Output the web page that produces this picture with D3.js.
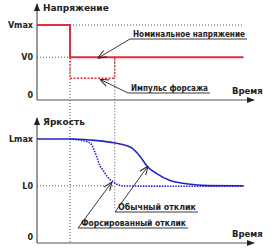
<!DOCTYPE html>
<html><head><meta charset="utf-8">
<script src="https://cdn.jsdelivr.net/npm/d3@7"></script>
<style>body{margin:0;background:#fff}svg{display:block}</style>
</head><body><svg id="c" width="274" height="250"></svg>
<script>
// ---- data ----
const vTickLabels = ["0", "V0", "Vmax"];
const vTickValues = [0, 0.57, 1];
const lTickLabels = ["0", "L0", "Lmax"];
const lTickValues = [0, 0.55, 1];
const tStart = 1.55, tEnd = 3.65, tMax = 9.7;
const voltT = [0, 1.55, 1.55, 9.7];
const voltV = [1, 1, 0.57, 0.57];
const pulseT = [1.55, 1.55, 3.65, 3.65];
const pulseV = [0.57, 0.29, 0.29, 0.57];
const normalT = [0, 1.55, 2.5, 3.4, 4.4, 4.85, 5.2, 5.6, 6.25, 7.0, 8.0, 9.7];
const normalL = [1, 1, 0.99, 0.97, 0.92, 0.83, 0.73, 0.67, 0.6, 0.57, 0.552, 0.55];
const forcedT = [1.55, 2.25, 2.5, 2.8, 2.96, 3.1, 3.33, 3.57, 3.8, 4.13, 9.7];
const forcedL = [1, 0.98, 0.96, 0.83, 0.74, 0.70, 0.63, 0.59, 0.56, 0.548, 0.545];
const axisTitles = ["Напряжение", "Яркость"];
const xTitle = "Время";
const annTexts = ["Номинальное напряжение", "Импульс форсажа", "Обычный отклик", "Форсированный отклик"];

// ---- layout ----
const svg = d3.select("#c");
const x = d3.scaleLinear().domain([0, 10]).range([37, 250]);
const yV = d3.scaleLinear().domain([0, 1]).range([100, 25]);
const yL = d3.scaleLinear().domain([0, 1]).range([243, 139]);
const red = "#e0303a", blue = "#2323c8", grey = "#555", txt = "#222";
const font = "DejaVu Sans, Verdana, sans-serif";

svg.append("defs").append("marker").attr("id","ah").attr("viewBox","0 0 10 10")
  .attr("refX",9).attr("refY",5).attr("markerWidth",8).attr("markerHeight",8).attr("orient","auto")
  .attr("markerUnits","userSpaceOnUse")
  .append("path").attr("d","M0,1L10,5L0,9Z").attr("fill","#222");
svg.select("defs").append("marker").attr("id","oh").attr("viewBox","0 0 10 10")
  .attr("refX",10).attr("refY",5).attr("markerWidth",9).attr("markerHeight",9).attr("orient","auto")
  .attr("markerUnits","userSpaceOnUse")
  .append("path").attr("d","M0,1L10,5L0,9").attr("fill","none").attr("stroke","#222").attr("stroke-width",1.1);

function dotted(x1,y1,x2,y2){
  svg.append("line").attr("x1",x1).attr("y1",y1).attr("x2",x2).attr("y2",y2)
    .attr("stroke",grey).attr("stroke-width",1).attr("stroke-dasharray","1,2");
}

// ---- guide lines ----
dotted(x(0), yV(1), x(tMax), yV(1));
dotted(x(0), yV(0.57), x(tStart), yV(0.57));
dotted(x(0), yL(0.55), x(tEnd), yL(0.55));
dotted(x(tStart), yV(1), x(tStart), yL(0));
dotted(x(tEnd), yV(0.57), x(tEnd), 210);

// ---- axes ----
function axes(y, top, labels, values, title, zeroOff){
  svg.append("line").attr("x1",x(0)).attr("y1",y(0)).attr("x2",x(0)).attr("y2",top)
    .attr("stroke",grey).attr("stroke-width",1.2).attr("marker-end","url(#ah)");
  svg.append("line").attr("x1",x(0)).attr("y1",y(0)).attr("x2",254).attr("y2",y(0))
    .attr("stroke",grey).attr("stroke-width",1.2).attr("marker-end","url(#ah)");
  labels.forEach((l,i)=>{
    svg.append("text").attr("x",33).attr("y",y(values[i]) + (i===0?zeroOff:3))
      .attr("text-anchor","end").attr("font-family",font).attr("font-size",8).attr("font-weight","bold")
      .attr("fill",txt).text(l);
  });
  svg.append("text").attr("x",43).attr("y",top+7).attr("font-family",font).attr("font-size",9)
    .attr("font-weight","bold").attr("fill",txt).text(title);
  svg.append("text").attr("x",232).attr("y",y(0)-6).attr("font-family",font).attr("font-size",8.5)
    .attr("font-weight","bold").attr("fill",txt).text(xTitle);
}
axes(yV, 4, vTickLabels, vTickValues, axisTitles[0], -2);
axes(yL, 118, lTickLabels, lTickValues, axisTitles[1], -3);

// ---- series ----
const lineV = d3.line().x(d=>x(d[0])).y(d=>yV(d[1]));
svg.append("path").attr("d", lineV(d3.zip(pulseT, pulseV))).attr("fill","none")
  .attr("stroke",red).attr("stroke-width",1.3).attr("stroke-dasharray","2,1.5");
svg.append("path").attr("d", lineV(d3.zip(voltT, voltV))).attr("fill","none")
  .attr("stroke",red).attr("stroke-width",2);

const lineL = d3.line().x(d=>x(d[0])).y(d=>yL(d[1])).curve(d3.curveMonotoneX);
svg.append("path").attr("d", lineL(d3.zip(forcedT, forcedL))).attr("fill","none")
  .attr("stroke",blue).attr("stroke-width",1.6).attr("stroke-dasharray","1.5,1.2");
svg.append("path").attr("d", lineL(d3.zip(normalT, normalL))).attr("fill","none")
  .attr("stroke",blue).attr("stroke-width",1.6);

// ---- annotations ----
const anns = [
  {t:annTexts[0], tx:130, ty:39, w:117, ax:x(2.85), ay:yV(0.57)+1},
  {t:annTexts[1], tx:128, ty:93, w:82, ax:x(2.95), ay:yV(0.29)+1},
  {t:annTexts[2], tx:115, ty:212, w:83, ax:148, ay:166},
  {t:annTexts[3], tx:78, ty:228, w:110, ax:112, ay:182}
];
anns.forEach(a=>{
  svg.append("line").attr("x1",a.tx).attr("y1",a.ty).attr("x2",a.ax).attr("y2",a.ay)
    .attr("stroke","#222").attr("stroke-width",0.9).attr("marker-end","url(#oh)");
  svg.append("line").attr("x1",a.tx).attr("y1",a.ty).attr("x2",a.tx+a.w).attr("y2",a.ty)
    .attr("stroke","#222").attr("stroke-width",0.9);
  svg.append("text").attr("x",a.tx+3).attr("y",a.ty-2.5).attr("font-family",font).attr("font-size",8)
    .attr("font-weight",600).attr("fill",txt).attr("textLength",a.w-5)
    .attr("lengthAdjust","spacingAndGlyphs").text(a.t);
});
</script></body></html>
